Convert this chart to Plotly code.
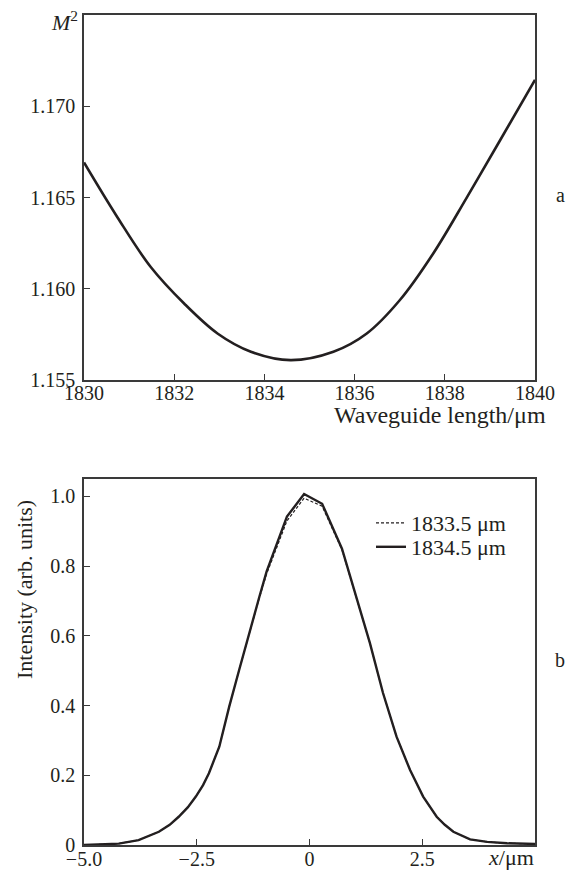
"""M^2 versus waveguide length and transverse intensity profiles."""
import plotly.graph_objects as go

# panel a: beam quality factor vs waveguide length
wavelength_len = [1830.0, 1830.74, 1831.48, 1832.22, 1832.96, 1833.70, 1834.58,
                  1835.53, 1836.27, 1837.0, 1837.74, 1838.49, 1839.22, 1840.0]
m2_values = [1.16692, 1.16392, 1.16119, 1.15919, 1.15755, 1.15655, 1.15609,
             1.15655, 1.15755, 1.15937, 1.16192, 1.16501, 1.16811, 1.17145]

# panel b: intensity profiles
x_profile = [-5.0, -4.6, -4.23, -3.79, -3.34, -3.1, -2.9, -2.7, -2.52, -2.36,
             -2.23, -2.0, -1.78, -1.56, -1.34, -1.11, -0.95, -0.5, -0.12, 0.28,
             0.72, 1.04, 1.34, 1.63, 1.93, 2.23, 2.52, 2.82, 3.0, 3.19,
             3.56, 3.94, 4.38, 5.0]
intensity_1834_5 = [0.0, 0.002, 0.004, 0.014, 0.038, 0.058, 0.081, 0.108, 0.139, 0.172,
                    0.206, 0.282, 0.397, 0.502, 0.608, 0.713, 0.785, 0.942, 1.007, 0.979,
                    0.850, 0.713, 0.579, 0.436, 0.311, 0.215, 0.139, 0.081, 0.058, 0.038,
                    0.016, 0.009, 0.005, 0.003]
intensity_1833_5 = [0.0, 0.002, 0.004, 0.014, 0.038, 0.058, 0.081, 0.108, 0.139, 0.172,
                    0.206, 0.282, 0.397, 0.502, 0.606, 0.710, 0.778, 0.930, 0.995, 0.972,
                    0.847, 0.712, 0.579, 0.436, 0.311, 0.215, 0.139, 0.081, 0.058, 0.038,
                    0.016, 0.009, 0.005, 0.003]
series_names = ["1833.5 μm", "1834.5 μm"]

# page body has an 8px margin, so the figure starts 8px in from the window edge
PAGE_PAD = 8
WIN_W, WIN_H = 579, 876
W, H = WIN_W - PAGE_PAD, WIN_H - PAGE_PAD
FONT = "Liberation Serif"
INK = "#231f20"
AXIS = "#3a3a3a"
TICK_SIZE = 20
TEXT_SIZE = 22


def px_x(p):
    # window pixel -> paper fraction
    return (p - PAGE_PAD) / W


def px_y(p):
    return 1 - (p - PAGE_PAD) / H


fig = go.Figure()
fig.add_trace(go.Scatter(x=wavelength_len, y=m2_values, mode="lines",
                         line=dict(color=INK, width=2.6, shape="spline"),
                         showlegend=False, xaxis="x", yaxis="y"))
fig.add_trace(go.Scatter(x=x_profile, y=intensity_1833_5, mode="lines", name=series_names[0],
                         line=dict(color=INK, width=1.2, dash="3px,2px"),
                         xaxis="x2", yaxis="y2", legend="legend"))
fig.add_trace(go.Scatter(x=x_profile, y=intensity_1834_5, mode="lines", name=series_names[1],
                         line=dict(color=INK, width=2.4),
                         xaxis="x2", yaxis="y2", legend="legend2"))

axis_common = dict(showline=True, linecolor=AXIS, linewidth=1.5, mirror=True,
                   ticks="inside", ticklen=6, tickwidth=1.3, tickcolor=AXIS,
                   showgrid=False, zeroline=False, automargin=False,
                   tickfont=dict(family=FONT, size=TICK_SIZE, color=INK))
legend_common = dict(xanchor="left", yanchor="middle", bgcolor="rgba(0,0,0,0)",
                     font=dict(family=FONT, size=TEXT_SIZE, color=INK),
                     itemwidth=30, borderwidth=0)

fig.update_layout(
    template="none",
    width=W, height=H,
    margin=dict(l=0, r=0, t=0, b=0),
    paper_bgcolor="white", plot_bgcolor="white",
    font=dict(family=FONT, size=TICK_SIZE, color=INK),
    xaxis=dict(domain=[px_x(84), px_x(535)], anchor="y", range=[1830, 1840],
               tickvals=[1830, 1832, 1834, 1836, 1838, 1840],
               ticklabelstandoff=-6, **axis_common),
    yaxis=dict(domain=[px_y(380), px_y(15)], anchor="x", range=[1.155, 1.175],
               tickvals=[1.155, 1.160, 1.165, 1.170], tickformat=".3f",
               ticklabelstandoff=3, **axis_common),
    xaxis2=dict(domain=[px_x(84), px_x(535)], anchor="y2", range=[-5, 5],
                tickvals=[-5, -2.5, 0, 2.5], ticktext=["−5.0", "−2.5", "0", "2.5"],
                ticklabelstandoff=-5, **axis_common),
    yaxis2=dict(domain=[px_y(845), px_y(479)], anchor="x2", range=[0, 1.05],
                tickvals=[0, 0.2, 0.4, 0.6, 0.8, 1.0],
                ticktext=["0", "0.2", "0.4", "0.6", "0.8", "1.0"],
                ticklabelstandoff=3, **axis_common),
    legend=dict(x=px_x(371), y=px_y(523), **legend_common),
    legend2=dict(x=px_x(371), y=px_y(547), **legend_common),
)

notes = [
    dict(text="<i>M</i><sup>2</sup>", x=px_x(80), y=px_y(21), xanchor="right",
         yanchor="middle", size=TEXT_SIZE),
    dict(text="Waveguide length/μm", x=px_x(548), y=px_y(415), xanchor="right",
         yanchor="middle", size=24),
    dict(text="a", x=px_x(560), y=px_y(195), xanchor="center", yanchor="middle", size=TICK_SIZE),
    dict(text="b", x=px_x(560), y=px_y(660), xanchor="center", yanchor="middle", size=TICK_SIZE),
    dict(text="<i>x</i>/μm", x=px_x(536), y=px_y(857), xanchor="right", yanchor="middle",
         size=TEXT_SIZE),
    dict(text="Intensity (arb. units)", x=px_x(24), y=px_y(590), xanchor="center",
         yanchor="middle", textangle=-90, size=TEXT_SIZE),
]
for n in notes:
    size = n.pop("size")
    fig.add_annotation(xref="paper", yref="paper", showarrow=False,
                       font=dict(family=FONT, size=size, color=INK), **n)

fig.write_html("out.html")
